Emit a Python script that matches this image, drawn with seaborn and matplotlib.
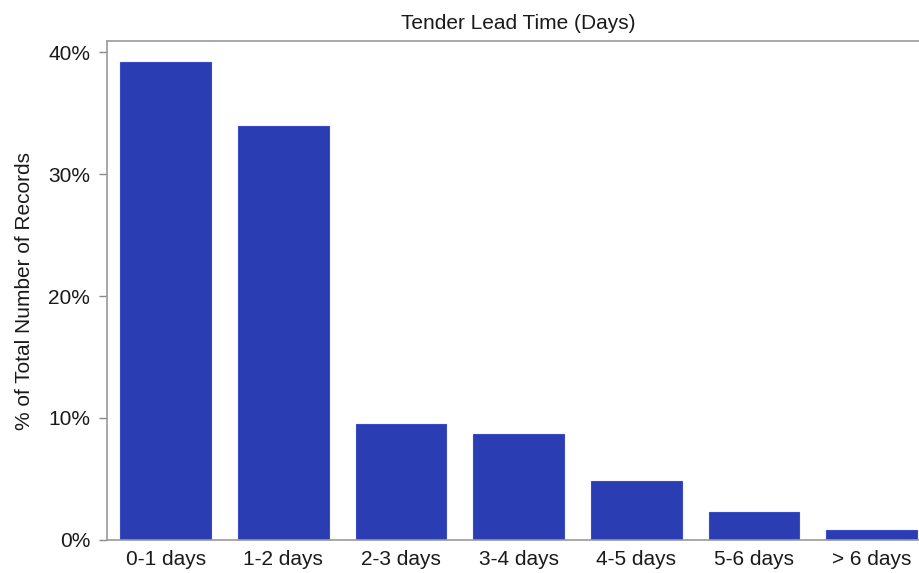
import matplotlib
matplotlib.use("Agg")
import matplotlib.pyplot as plt
import pandas as pd
import seaborn as sns
from matplotlib.ticker import FuncFormatter

categories = ["0-1 days", "1-2 days", "2-3 days", "3-4 days", "4-5 days", "5-6 days", "> 6 days"]
percent_records = [39.2, 33.9, 9.5, 8.7, 4.85, 2.3, 0.8]
yticks = [0, 10, 20, 30, 40]

df = pd.DataFrame({"bucket": categories, "pct": percent_records})

sns.set_style("white")
plt.rcParams["font.family"] = ["Liberation Sans", "DejaVu Sans"]
plt.rcParams["text.color"] = "#1a1a1a"
plt.rcParams["xtick.color"] = "#1a1a1a"
plt.rcParams["ytick.color"] = "#1a1a1a"
plt.rcParams["axes.labelcolor"] = "#1a1a1a"

fig = plt.figure(figsize=(9.19, 5.73), dpi=100)
ax = fig.add_axes([0.1164, 0.0576, 0.896, 0.8708])

sns.barplot(data=df, x="bucket", y="pct", color="#2b3db3", width=0.77,
            saturation=1, edgecolor="#3a4cc4", linewidth=0.8, ax=ax)

ax.set_xlim(-0.5, len(categories) - 0.5)
ax.set_ylim(0, 40.9)
ax.set_yticks(yticks)
ax.yaxis.set_major_formatter(FuncFormatter(lambda v, _: f"{v:.0f}%"))

# ticks on category boundaries, labels centred under bars
ax.set_xticks([i + 0.5 for i in range(len(categories) - 1)])
ax.set_xticklabels([])
ax.set_xticks(range(len(categories)), minor=True)
ax.set_xticklabels(categories, minor=True, fontsize=15)
ax.tick_params(axis="x", which="minor", length=0, pad=7)
ax.tick_params(axis="x", which="major", length=6, width=1, color="#8a8a8a", direction="out")
ax.tick_params(axis="y", length=6, width=1, color="#8a8a8a", direction="out",
               labelsize=15, pad=6, left=True)

for side in ["left", "bottom", "top"]:
    ax.spines[side].set_visible(True)
    ax.spines[side].set_color("#9a9a9a")
    ax.spines[side].set_linewidth(1.2)
ax.spines["right"].set_visible(False)

ax.set_xlabel("")
ax.set_ylabel("% of Total Number of Records", fontsize=15, labelpad=10)
ax.set_title("Tender Lead Time (Days)", fontsize=15, pad=9)

fig.savefig("out.png", dpi=100)
